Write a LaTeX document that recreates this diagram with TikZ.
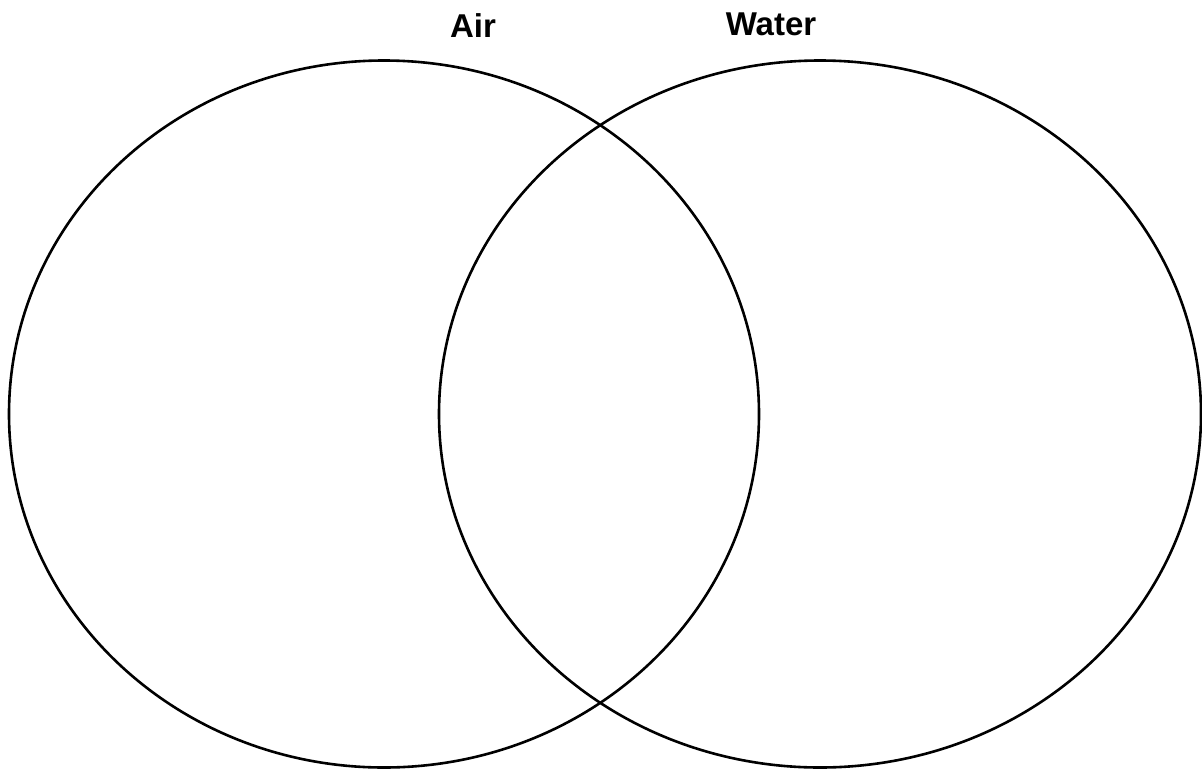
\documentclass[tikz,border=0pt]{standalone}
\usepackage{fontspec}
\setmainfont{Liberation Sans}
\usetikzlibrary{positioning, shapes.geometric}

\begin{document}
\begin{tikzpicture}[
    x=1pt, y=-1pt,
    lingkaran/.style={draw, ellipse, line width=2.6pt, inner sep=0pt},
    judul/.style={anchor=base, font=\fontsize{33}{40}\selectfont\bfseries}
  ]
    % Kotak batas mengikuti ukuran gambar acuan.
    \useasboundingbox (0,0) rectangle (1202,769);
    \node[lingkaran, minimum width=750pt, minimum height=707pt] (udara) at (384,414) {};
    \node[lingkaran, minimum width=762pt, minimum height=707pt] (air) at (820,414) {};
    \node[judul] (labelUdara) at (473,37) {Air};
    \node[judul] (labelAir) at (771,35) {Water};
  \end{tikzpicture}
\end{document}
